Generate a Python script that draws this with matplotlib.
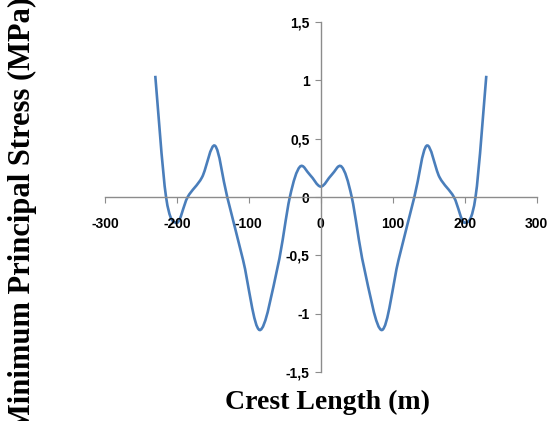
import matplotlib.pyplot as plt
from matplotlib.path import Path
from matplotlib.patches import PathPatch
import numpy as np

# crest length (m) and minimum principal stress (MPa)
crest = [-230, -215, -200, -185, -165, -147, -130, -108, -85, -60, -43, -29, -15, 0,
         15, 29, 43, 60, 85, 108, 130, 147, 165, 185, 200, 215, 230]
stress = [1.04, 0.0, -0.22, 0.0, 0.17, 0.44, 0.0, -0.54, -1.14, -0.6, 0.0, 0.26, 0.19, 0.09,
          0.19, 0.26, 0.0, -0.6, -1.14, -0.54, 0.0, 0.44, 0.17, 0.0, -0.22, 0.0, 1.04]

xticks = [-300, -200, -100, 0, 100, 200, 300]
yticks = [-1.5, -1, -0.5, 0, 0.5, 1, 1.5]
ylabels = ['-1,5', '-1', '-0,5', '0', '0,5', '1', '1,5']


def smooth_path(x, y):
    # Excel-like smoothed line: Catmull-Rom segments as cubic Beziers
    p = np.column_stack([x, y]).astype(float)
    ext = np.vstack([p[0], p, p[-1]])
    verts = [p[0]]
    codes = [Path.MOVETO]
    for i in range(1, len(ext) - 2):
        c1 = ext[i] + (ext[i + 1] - ext[i - 1]) / 6
        c2 = ext[i + 1] - (ext[i + 2] - ext[i]) / 6
        verts += [c1, c2, ext[i + 1]]
        codes += [Path.CURVE4] * 3
    return Path(verts, codes)


tick_font = 'Liberation Sans'

fig = plt.figure(figsize=(5.55, 4.21), dpi=100)
ax = fig.add_axes([0.189, 0.1164, 0.778, 0.831])

ax.add_patch(PathPatch(smooth_path(crest, stress), fill=False,
                       edgecolor='#4a7ebb', linewidth=1.9, capstyle='butt'))

ax.set_xlim(-300, 300)
ax.set_ylim(-1.5, 1.5)

for side in ['top', 'right']:
    ax.spines[side].set_visible(False)
ax.spines['left'].set_position(('data', 0))
ax.spines['bottom'].set_position(('data', 0))
for side in ['left', 'bottom']:
    ax.spines[side].set_color('#8c8c8c')
    ax.spines[side].set_linewidth(1.0)

ax.set_xticks(xticks)
ax.set_xticklabels([str(t) for t in xticks], family=tick_font, fontweight='bold', fontsize=10)
ax.set_yticks(yticks)
ax.set_yticklabels(ylabels, family=tick_font, fontweight='bold', fontsize=10)
ax.tick_params(axis='x', direction='out', length=4, color='#8c8c8c', pad=10)
ax.tick_params(axis='y', direction='out', length=4, color='#8c8c8c', pad=4)

fig.text(0.59, 0.043, 'Crest Length (m)', family='Liberation Serif', fontweight='bold',
         fontsize=20, ha='center', va='center')
fig.text(0.04, 0.49, 'Minimum Principal Stress (MPa)', family='Liberation Serif',
         fontweight='bold', fontsize=22, rotation=90, ha='center', va='center')

fig.savefig('out.png', dpi=100)
